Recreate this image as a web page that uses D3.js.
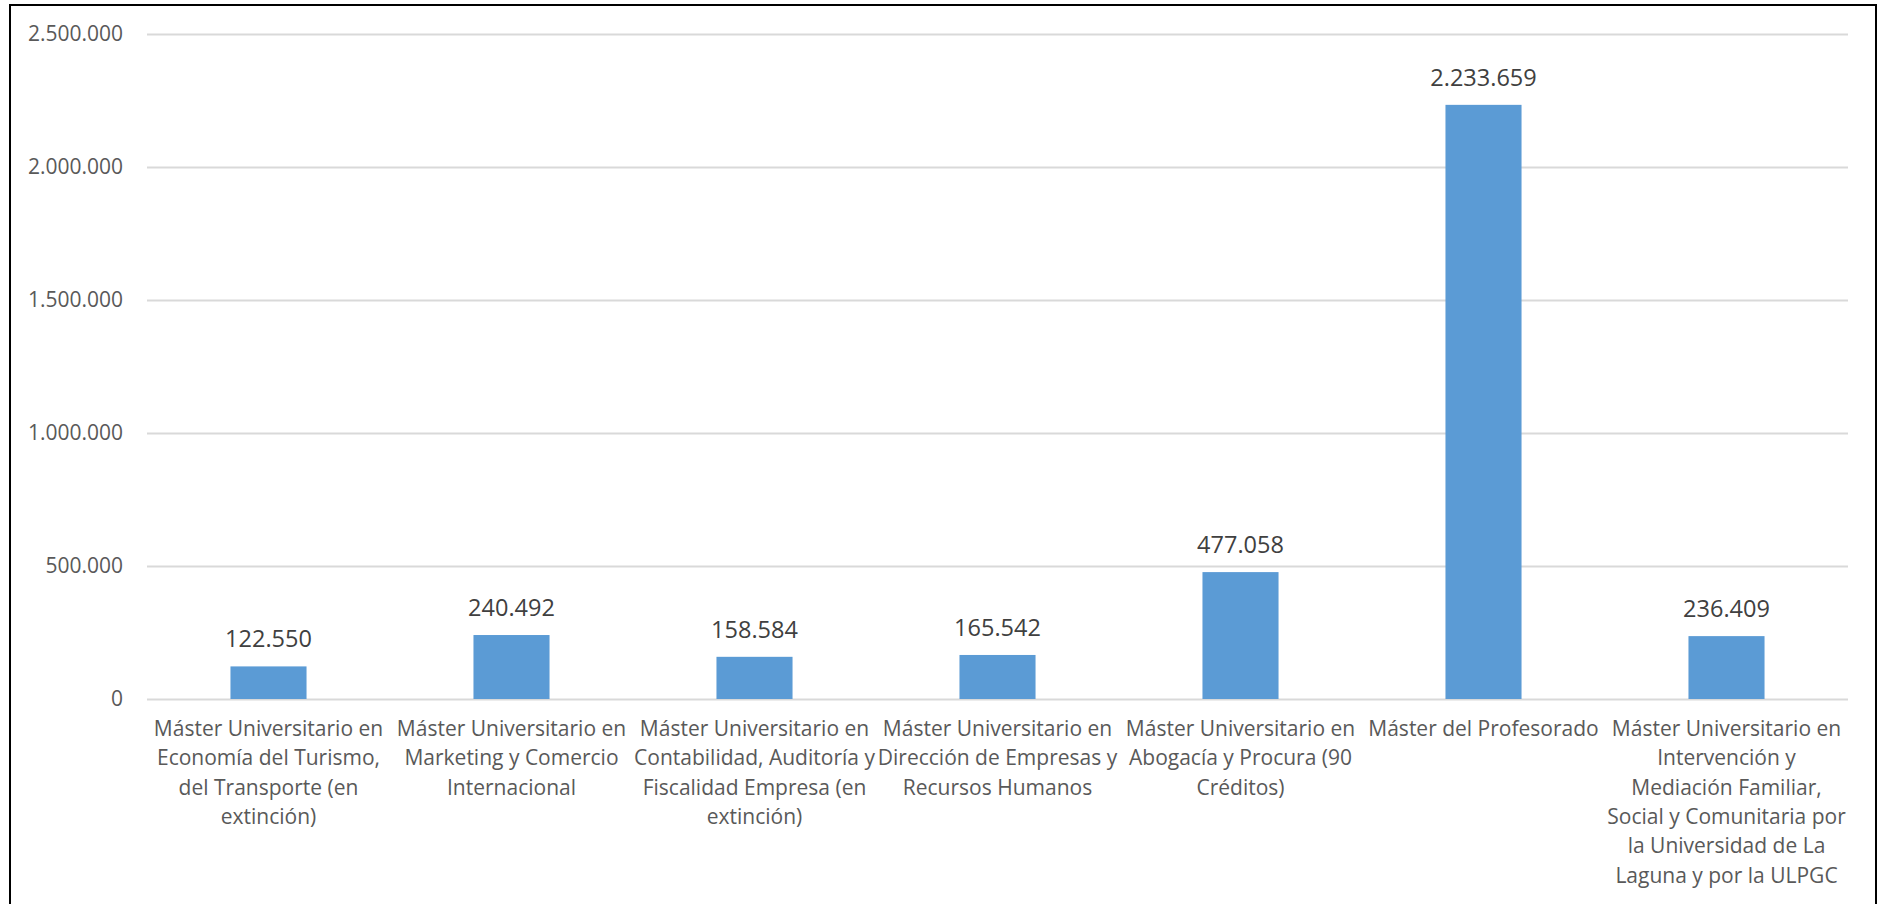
<!DOCTYPE html>
<html>
<head>
<meta charset="utf-8">
<script src="https://cdn.jsdelivr.net/npm/d3@7"></script>
<style>
  html, body { margin: 0; padding: 0; background: #fff; }
  svg { display: block; }
  text { font-family: "Open Sans", "Noto Sans", sans-serif; }
</style>
</head>
<body>
<svg id="chart" width="1878" height="904"></svg>
<script>
// ---- data ----
const categories = [
  "Máster Universitario en\nEconomía del Turismo,\ndel Transporte (en\nextinción)",
  "Máster Universitario en\nMarketing y Comercio\nInternacional",
  "Máster Universitario en\nContabilidad, Auditoría y\nFiscalidad Empresa (en\nextinción)",
  "Máster Universitario en\nDirección de Empresas y\nRecursos Humanos",
  "Máster Universitario en\nAbogacía y Procura (90\nCréditos)",
  "Máster del Profesorado",
  "Máster Universitario en\nIntervención y\nMediación Familiar,\nSocial y Comunitaria por\nla Universidad de La\nLaguna y por la ULPGC"
];
const values = [122550, 240492, 158584, 165542, 477058, 2233659, 236409];
const yTicks = [0, 500000, 1000000, 1500000, 2000000, 2500000];

// ---- layout ----
const W = 1878, H = 904;
const plot = { left: 147, right: 1848, top: 34, bottom: 699 };

const svg = d3.select("#chart");
const locale = d3.formatLocale({ decimal: ",", thousands: ".", grouping: [3], currency: ["", "€"] });
const fmt = locale.format(",d");

const x = d3.scaleBand()
  .domain(categories)
  .range([plot.left, plot.right])
  .paddingInner(0.687)
  .paddingOuter(0.687 / 2);

const y = d3.scaleLinear()
  .domain([0, 2500000])
  .range([plot.bottom, plot.top]);

// frame
svg.append("rect")
  .attr("x", 10).attr("y", 5)
  .attr("width", 1866).attr("height", 1000)
  .attr("fill", "none").attr("stroke", "#000").attr("stroke-width", 2);

// gridlines + y tick labels via axis
const yAxis = d3.axisLeft(y)
  .tickValues(yTicks)
  .tickSize(-(plot.right - plot.left))
  .tickPadding(24)
  .tickFormat(fmt);

const gy = svg.append("g")
  .attr("transform", `translate(${plot.left},0)`)
  .call(yAxis);
gy.select(".domain").remove();
gy.selectAll(".tick line").attr("stroke", "#d9d9d9").attr("stroke-width", 2);
gy.selectAll(".tick text")
  .attr("fill", "#595959")
  .attr("font-size", "21px")
  .attr("font-family", "'Open Sans', sans-serif");

// bars
svg.append("g").selectAll("rect")
  .data(values)
  .join("rect")
  .attr("x", (d, i) => x(categories[i]))
  .attr("width", x.bandwidth())
  .attr("y", d => y(d))
  .attr("height", d => y(0) - y(d))
  .attr("fill", "#5b9bd5");

// data labels
svg.append("g").selectAll("text")
  .data(values)
  .join("text")
  .attr("x", (d, i) => x(categories[i]) + x.bandwidth() / 2)
  .attr("y", d => y(d) - 19)
  .attr("text-anchor", "middle")
  .attr("fill", "#404040")
  .attr("font-size", "23.5px")
  .text(d => fmt(d));

// category labels
const gx = svg.append("g").selectAll("text")
  .data(categories)
  .join("text")
  .attr("x", d => x(d) + x.bandwidth() / 2)
  .attr("y", 736)
  .attr("text-anchor", "middle")
  .attr("fill", "#595959")
  .attr("font-size", "21px");
gx.each(function(d) {
  const t = d3.select(this);
  const cx = +t.attr("x");
  d.split("\n").forEach((line, i) => {
    t.append("tspan").attr("x", cx).attr("dy", i === 0 ? 0 : 29.3).text(line);
  });
});
</script>
</body>
</html>
